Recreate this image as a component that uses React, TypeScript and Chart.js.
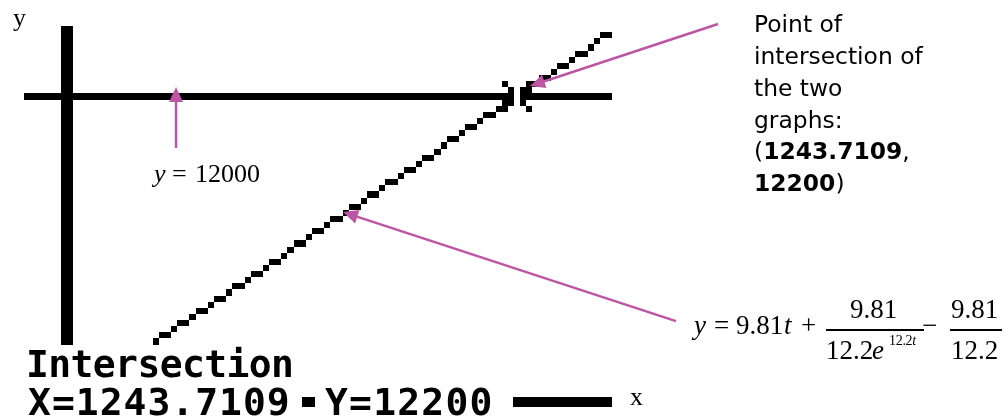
import React, { useEffect, useRef } from "react";
import { Chart, registerables } from "chart.js";

Chart.register(...registerables);

// ---- data (calculator window and graphs) ----
const windowT = [-184.9, 2597.7];
const windowY = [-536, 16046.7];
const graphT = [0, 250, 500, 750, 1000, 1250, 1500];
const graphY = [0, 2451.7, 4904.2, 7356.7, 9809.2, 12261.7, 14714.2];
const hLineY = 12200;
const axisT = 0;
const intersectX = 1243.7109;
const intersectY = 12200;

// annotation arrows (data coordinates): tip, tail
const arrowTipT = [301.5, 1279.6, 763.0];
const arrowTipY = [12576, 12616, 7593];
const arrowTailT = [301.5, 1799.1, 1683.1];
const arrowTailY = [10145, 15088, 3248];

// ---- calculator screen geometry ----
const CELL = 6.125;
const SCR_X0 = 24;
const SCR_Y0 = 26;
const COLS = 96;
const GRAPH_ROWS = 52;
const MAGENTA = "#bd55a5";

const tiPlugin = {
  id: "tiScreen",
  afterDatasetsDraw(chart: any) {
    const { ctx } = chart;
    const xs = chart.scales.x;
    const ys = chart.scales.y;
    const cells = new Set<string>();
    const add = (c: number, r: number) => {
      if (c >= 0 && c < COLS && r >= 0 && r < GRAPH_ROWS) cells.add(c + "," + r);
    };
    chart.data.datasets.forEach((ds: any) => {
      const thick = ds.cellThickness || 1;
      const pts = ds.data.map((p: any) => [
        (xs.getPixelForValue(p.x) - SCR_X0) / CELL,
        (ys.getPixelForValue(p.y) - SCR_Y0) / CELL,
      ]);
      for (let i = 0; i < pts.length - 1; i++) {
        const [ax, ay] = pts[i];
        const [bx, by] = pts[i + 1];
        if (Math.abs(bx - ax) >= Math.abs(by - ay)) {
          const lo = Math.min(ax, bx);
          const hi = Math.max(ax, bx);
          for (let c = Math.ceil(lo - 0.5); c + 0.5 <= hi; c++) {
            const f = (c + 0.5 - ax) / (bx - ax);
            const r = Math.floor(ay + f * (by - ay));
            for (let k = 0; k < thick; k++) add(c, r - k);
          }
        } else {
          const lo = Math.min(ay, by);
          const hi = Math.max(ay, by);
          for (let r = Math.ceil(lo - 0.5); r + 0.5 <= hi; r++) {
            const f = (r + 0.5 - ay) / (by - ay);
            const c = Math.floor(ax + f * (bx - ax));
            for (let k = 0; k < thick; k++) add(c - k, r);
          }
        }
      }
    });
    // intersection cursor
    const cc = Math.floor((xs.getPixelForValue(intersectX) - SCR_X0) / CELL);
    const cr = Math.floor((ys.getPixelForValue(intersectY) - SCR_Y0) / CELL);
    for (const d of [1, 2]) {
      add(cc - d, cr - d);
      add(cc + d, cr - d);
      add(cc - d, cr + d);
      add(cc + d, cr + d);
    }
    cells.delete(cc + "," + cr);

    ctx.save();
    ctx.fillStyle = "#000";
    cells.forEach((key) => {
      const [c, r] = key.split(",").map(Number);
      const x0 = Math.round(SCR_X0 + c * CELL);
      const x1 = Math.round(SCR_X0 + (c + 1) * CELL);
      const y0 = Math.round(SCR_Y0 + r * CELL);
      const y1 = Math.round(SCR_Y0 + (r + 1) * CELL);
      ctx.fillRect(x0, y0, x1 - x0, y1 - y0);
    });
    ctx.restore();
  },
};

const arrowPlugin = {
  id: "arrows",
  afterDraw(chart: any) {
    const { ctx } = chart;
    const xs = chart.scales.x;
    const ys = chart.scales.y;
    ctx.save();
    ctx.strokeStyle = MAGENTA;
    ctx.fillStyle = MAGENTA;
    ctx.lineWidth = 2.5;
    for (let i = 0; i < arrowTipT.length; i++) {
      const tx = xs.getPixelForValue(arrowTipT[i]);
      const ty = ys.getPixelForValue(arrowTipY[i]);
      const sx = xs.getPixelForValue(arrowTailT[i]);
      const sy = ys.getPixelForValue(arrowTailY[i]);
      const ang = Math.atan2(ty - sy, tx - sx);
      const len = 15;
      const half = 7;
      const bx = tx - Math.cos(ang) * len;
      const by = ty - Math.sin(ang) * len;
      ctx.beginPath();
      ctx.moveTo(sx, sy);
      ctx.lineTo(bx + Math.cos(ang) * 2, by + Math.sin(ang) * 2);
      ctx.stroke();
      ctx.beginPath();
      ctx.moveTo(tx, ty);
      ctx.lineTo(bx + Math.sin(ang) * half, by - Math.cos(ang) * half);
      ctx.lineTo(bx - Math.sin(ang) * half, by + Math.cos(ang) * half);
      ctx.closePath();
      ctx.fill();
    }
    ctx.restore();
  },
};

const METRICS: Record<string, [number, number]> = {
  serif: [0.891, 0.216],
  sans: [0.928, 0.236],
};
const FAMILY: Record<string, string> = {
  serif: '"Liberation Serif", "Times New Roman", serif',
  sans: '"DejaVu Sans", sans-serif',
  mono: '"DejaVu Sans Mono", monospace',
};

function T(props: {
  x: number;
  base: number;
  size: number;
  kind?: string;
  italic?: boolean;
  bold?: boolean;
  spacing?: number;
  children: React.ReactNode;
}) {
  const kind = props.kind || "serif";
  const [a, d] = METRICS[kind === "mono" ? "sans" : kind];
  const s = props.size;
  const off = (s - (a + d) * s) / 2 + a * s;
  return (
    <div
      style={{
        position: "absolute",
        left: props.x,
        top: props.base - off,
        fontFamily: FAMILY[kind],
        fontSize: s,
        lineHeight: s + "px",
        fontStyle: props.italic ? "italic" : "normal",
        fontWeight: props.bold ? 700 : 400,
        letterSpacing: props.spacing || 0,
        whiteSpace: "pre",
        color: "#000",
      }}
    >
      {props.children}
    </div>
  );
}

function Box(props: { x: number; y: number; w: number; h: number; color?: string }) {
  return (
    <div
      style={{
        position: "absolute",
        left: props.x,
        top: props.y,
        width: props.w,
        height: props.h,
        background: props.color || "#000",
      }}
    />
  );
}

export default function App() {
  const ref = useRef<HTMLCanvasElement>(null);
  useEffect(() => {
    const chart = new Chart(ref.current as HTMLCanvasElement, {
      type: "scatter",
      data: {
        datasets: [
          {
            label: "Y1",
            data: graphT.map((t, i) => ({ x: t, y: graphY[i] })),
            pointRadius: 0,
            showLine: false,
            cellThickness: 1,
          } as any,
          {
            label: "Y2",
            data: windowT.map((t) => ({ x: t, y: hLineY })),
            pointRadius: 0,
            showLine: false,
            cellThickness: 1,
          } as any,
          {
            label: "axis",
            data: windowY.map((v) => ({ x: axisT, y: v })),
            pointRadius: 0,
            showLine: false,
            cellThickness: 2,
          } as any,
        ],
      },
      options: {
        responsive: false,
        maintainAspectRatio: false,
        animation: false,
        devicePixelRatio: 1,
        events: [],
        layout: { padding: 0 },
        plugins: {
          legend: { display: false },
          tooltip: { enabled: false },
          title: { display: false },
        },
        scales: {
          x: { type: "linear", min: windowT[0], max: windowT[1], display: false },
          y: { type: "linear", min: windowY[0], max: windowY[1], display: false },
        },
      },
      plugins: [tiPlugin, arrowPlugin],
    });
    return () => chart.destroy();
  }, []);

  const F = 27;
  return (
    <div
      style={{
        position: "absolute",
        left: 0,
        top: 0,
        width: 1007,
        height: 416,
        background: "#fff",
        overflow: "hidden",
      }}
    >
      <canvas ref={ref} width={1007} height={416} style={{ display: "block", width: 1007, height: 416 }} />

      {/* axis labels */}
      <T x={13} base={27} size={26}>y</T>
      <T x={630} base={406} size={26}>x</T>

      {/* y = 12000 label */}
      <T x={154} base={183} size={26} italic>y</T>
      <T x={172} base={183} size={26}>=</T>
      <T x={195} base={183} size={26}>12000</T>

      {/* calculator text */}
      <T x={26} base={377} size={38} kind="mono" bold spacing={-0.6}>Intersection</T>
      <T x={28} base={415} size={38} kind="mono" bold spacing={1.0}>X=1243.7109</T>
      <Box x={302} y={397} w={13} h={10} />
      <T x={325} base={415} size={38} kind="mono" bold spacing={1.2}>Y=12200</T>
      <Box x={513} y={397} w={99} h={10} />

      {/* right annotation */}
      <div
        style={{
          position: "absolute",
          left: 754,
          top: 9.4,
          fontFamily: FAMILY.sans,
          fontSize: 23.4,
          lineHeight: "31.7px",
          color: "#000",
          whiteSpace: "pre",
        }}
      >
        {"Point of\nintersection of\nthe two\ngraphs:\n("}
        <b>1243.7109</b>
        {",\n"}
        <b>12200</b>
        {")"}
      </div>

      {/* formula */}
      <T x={694} base={334.5} size={F} italic>y</T>
      <T x={714} base={334.5} size={F}>=</T>
      <T x={736} base={334.5} size={F}>9.81</T>
      <T x={784} base={334.5} size={F} italic>t</T>
      <T x={801} base={334.5} size={F}>+</T>
      <T x={850} base={319} size={F}>9.81</T>
      <Box x={826} y={329} w={98} h={1.6} />
      <T x={826} base={360} size={F}>12.2</T>
      <T x={872} base={360} size={F} italic>e</T>
      <T x={889} base={346} size={14} spacing={-0.3}>
        12.2<i>t</i>
      </T>
      <T x={922} base={334.5} size={F}>−</T>
      <T x={951} base={319} size={F}>9.81</T>
      <Box x={950} y={329} w={52} h={1.6} />
      <T x={951} base={360} size={F}>12.2</T>
    </div>
  );
}
